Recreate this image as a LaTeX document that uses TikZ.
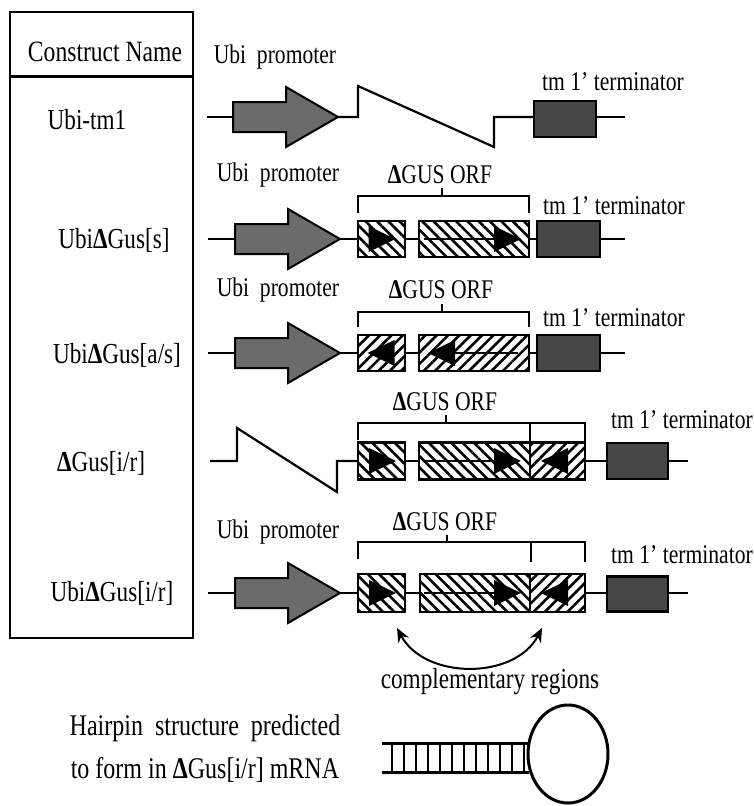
\documentclass[tikz,border=0pt]{standalone}
\usepackage{fontspec}
\setmainfont{Liberation Serif}[FakeStretch=0.8]
\usetikzlibrary{patterns.meta,arrows.meta}
\begin{document}
\begin{tikzpicture}[x=1pt,y=-1pt,
  lbl/.style={font=\fontsize{27}{30}\selectfont, inner sep=0pt},
  namelbl/.style={font=\fontsize{29}{30}\selectfont, inner sep=0pt},
  hdrlbl/.style={font=\fontsize{29.5}{30}\selectfont, inner sep=0pt},
  biglbl/.style={font=\fontsize{30}{30}\selectfont, inner sep=0pt},
  dna/.style={line width=2.2pt},
  box/.style={draw, line width=2.2pt, inner sep=0pt, outer sep=0pt},
  hatchbs/.style={box, pattern={Lines[angle=-45,distance=8pt,line width=2.6pt]}},
  hatchfs/.style={box, pattern={Lines[angle=45,distance=8pt,line width=2.6pt]}},
  term/.style={box, fill=black!72, minimum width=62pt, minimum height=36pt},
  brk/.style={line width=2pt},
  promoter/.pic={\filldraw[line width=2pt, fill=black!58] (0,-15) -- (53,-15) -- (53,-30) -- (105,0) -- (53,30) -- (53,15) -- (0,15) -- cycle;
     \coordinate (-tail) at (0,0); \coordinate (-tip) at (105,0);},
  trR/.pic={\fill (-13,-13) -- (14,0) -- (-13,13) -- cycle;},
  trL/.pic={\fill (13,-13) -- (-14,0) -- (13,13) -- cycle;},
]
\useasboundingbox (0,0) rectangle (754,806);

% table
\draw[line width=2.5pt] (10,12) rectangle (193,638);
\draw[line width=3pt] (10,76) -- (193,76);
\node[hdrlbl] (hdr) at (105,52) {Construct Name};
\node[namelbl] (n1) at (87,120) {Ubi-tm1};
\node[namelbl] (n2) at (114,240) {Ubi\textbf{Δ}Gus[s]};
\node[namelbl] (n3) at (117,355) {Ubi\textbf{Δ}Gus[a/s]};
\node[namelbl] (n4) at (101,463) {\textbf{Δ}Gus[i/r]};
\node[namelbl] (n5) at (112,593) {Ubi\textbf{Δ}Gus[i/r]};

% ---- row 1 ----
\node[lbl] (up1) at (275,57) {Ubi\ \ promoter};
\node[lbl] (tl1) at (613,82) {tm 1’ terminator};
\pic (pr1) at (233,117) {promoter};
\node[term] (t1) at (565,119) {};
\coordinate (s1) at (207,117);
\coordinate (e1) at (625,117);
\draw[dna] (s1) -- (pr1-tail);
\draw[dna] (pr1-tip) -- (358,117) -- (358,86) -- (494,147) -- (494,117) -- (t1.west |- pr1-tip);
\draw[dna] (t1.east |- e1) -- (e1);

% ---- row 2 ----
\node[lbl] (up2) at (278,175) {Ubi\ \ promoter};
\node[lbl] (orf2) at (440,175) {\textbf{Δ}GUS ORF};
\node[lbl] (tl2) at (614,206) {tm 1’ terminator};
\pic (pr2) at (235,239) {promoter};
\node[hatchbs, minimum width=47pt, minimum height=36pt] (a2) at (381.5,239) {};
\node[hatchbs, minimum width=110pt, minimum height=36pt] (b2) at (474,239) {};
\node[term, minimum width=63pt] (t2) at (568.5,239) {};
\coordinate (s2) at (208,239);
\coordinate (e2) at (625,239);
\draw[dna] (s2) -- (pr2-tail);
\draw[dna] (pr2-tip) -- (a2);
\draw[dna] (a2) -- (b2);
\draw[dna] (b2) -- (t2);
\draw[dna] (t2) -- (e2);
\pic at (381.5,239) {trR};
\draw[line width=1.8pt] (424,239) -- (500,239);
\pic at (507,239) {trR};
\draw[brk] (358,213) -- (358,196) -- (529,196) -- (529,213);
\draw[brk] (442,196) -- (442,188);

% ---- row 3 ----
\node[lbl] (up3) at (278,290) {Ubi\ \ promoter};
\node[lbl] (orf3) at (441,290) {\textbf{Δ}GUS ORF};
\node[lbl] (tl3) at (614,318) {tm 1’ terminator};
\pic (pr3) at (235,353) {promoter};
\node[hatchfs, minimum width=47pt, minimum height=36pt] (a3) at (381.5,353) {};
\node[hatchfs, minimum width=110pt, minimum height=36pt] (b3) at (474,353) {};
\node[term, minimum width=63pt] (t3) at (568.5,353) {};
\coordinate (s3) at (208,353);
\coordinate (e3) at (625,353);
\draw[dna] (s3) -- (pr3-tail);
\draw[dna] (pr3-tip) -- (a3);
\draw[dna] (a3) -- (b3);
\draw[dna] (b3) -- (t3);
\draw[dna] (t3) -- (e3);
\pic at (381.5,353) {trL};
\pic at (442,353) {trL};
\draw[line width=1.8pt] (448,353) -- (518,353);
\draw[brk] (358,327) -- (358,312) -- (529,312) -- (529,327);
\draw[brk] (442,312) -- (442,304);

% ---- row 4 ----
\node[lbl] (orf4) at (445,402) {\textbf{Δ}GUS ORF};
\node[lbl] (tl4) at (682,420) {tm 1’ terminator};
\node[hatchbs, minimum width=47pt, minimum height=37pt] (a4) at (381.5,461) {};
\node[hatchbs, minimum width=111pt, minimum height=37pt] (b4) at (474.5,461) {};
\node[hatchfs, minimum width=55pt, minimum height=37pt] (c4) at (557.5,461) {};
\node[term, minimum width=61pt] (t4) at (637.5,461) {};
\coordinate (s4) at (210,461);
\coordinate (e4) at (688,461);
\draw[dna] (s4) -- (237,461) -- (237,428) -- (337,492) -- (337,461) -- (a4.west);
\draw[dna] (a4) -- (b4);
\draw[dna] (c4) -- (t4);
\draw[dna] (t4) -- (e4);
\pic at (382,461) {trR};
\draw[line width=1.8pt] (424,461) -- (500,461);
\pic at (507,461) {trR};
\pic at (555,461) {trL};
\draw[brk] (358,440) -- (358,423) -- (585,423) -- (585,443);
\draw[brk] (530,423) -- (530,443);
\draw[brk] (446,423) -- (446,415);

% ---- row 5 ----
\node[lbl] (up5) at (278,532) {Ubi\ \ promoter};
\node[lbl] (orf5) at (445,522) {\textbf{Δ}GUS ORF};
\node[lbl] (tl5) at (682,555) {tm 1’ terminator};
\pic (pr5) at (235,593) {promoter};
\node[hatchbs, minimum width=47pt, minimum height=38pt] (a5) at (381.5,593) {};
\node[hatchbs, minimum width=110pt, minimum height=38pt] (b5) at (475,593) {};
\node[hatchfs, minimum width=55pt, minimum height=38pt] (c5) at (557.5,593) {};
\node[term, minimum width=61pt, minimum height=35pt] (t5) at (637.5,594) {};
\coordinate (s5) at (208,593);
\coordinate (e5) at (688,593);
\draw[dna] (s5) -- (pr5-tail);
\draw[dna] (pr5-tip) -- (a5);
\draw[dna] (a5) -- (b5);
\draw[dna] (c5) -- (t5.west |- c5);
\draw[dna] (t5.east |- e5) -- (e5);
\pic at (382,593) {trR};
\draw[line width=1.8pt] (424,593) -- (500,593);
\pic at (507,593) {trR};
\pic at (555,593) {trL};
\draw[brk] (358,559) -- (358,542) -- (585,542) -- (585,562);
\draw[brk] (531,542) -- (531,562);
\draw[brk] (447,542) -- (447,535);

% complementary regions
\coordinate (cl) at (397,628);
\coordinate (cr) at (542,628);
\draw[line width=2pt, {Stealth[length=14pt,width=12pt]}-{Stealth[length=14pt,width=12pt]}] (cl) .. controls (425,680) and (515,680) .. (cr);
\node[namelbl] (cmp) at (490,682) {complementary regions};

% hairpin
\node[biglbl] (hp1) at (205,728) {Hairpin\ \ structure\ \ predicted};
\node[biglbl] (hp2) at (205,770) {to form in \textbf{Δ}Gus[i/r] mRNA};
\draw[line width=3pt] (382,743) -- (529,743);
\draw[line width=3pt] (382,772) -- (529,772);
\foreach \x in {392,404,...,524} \draw[line width=1.6pt] (\x,743) -- (\x,772);
\draw[line width=3pt] (568,754) ellipse [x radius=40pt, y radius=49pt];
\end{tikzpicture}
\end{document}
